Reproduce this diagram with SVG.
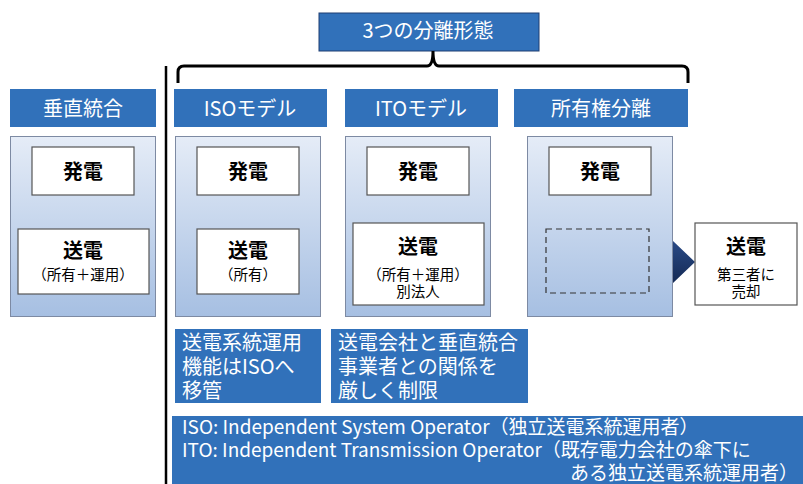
<svg xmlns="http://www.w3.org/2000/svg" width="803" height="484" viewBox="0 0 803 484">
<style>
text{font-family:"Noto Sans CJK JP","Noto Sans",sans-serif;}
.hdr{fill:#3171ba;}
.hdrt{fill:#fff;font-size:20px;text-anchor:middle;}
.panel{fill:url(#pg);stroke:#7d8aa3;stroke-width:1;}
.box{fill:#fff;stroke:#555;stroke-width:1.2;}
.bt{fill:#000;font-size:20px;font-weight:bold;text-anchor:middle;}
.st{fill:#000;font-size:14.5px;text-anchor:middle;}
.note{fill:#3171ba;}
.nt{fill:#fff;font-size:20px;}
.ft{fill:#fff;font-size:19px;}
</style>
<defs>
<linearGradient id="pg" x1="0" y1="0" x2="0" y2="1">
<stop offset="0" stop-color="#e5ecf7"/>
<stop offset="1" stop-color="#a6bfe2"/>
</linearGradient>
<linearGradient id="ag" x1="0" y1="0" x2="0" y2="1">
<stop offset="0" stop-color="#2a4a86"/>
<stop offset="1" stop-color="#142a55"/>
</linearGradient>
</defs>

<g id="title">
<rect x="319" y="13" width="220" height="38" class="hdr" stroke="#1f3f73" stroke-width="1"/>
<text x="428" y="38" class="hdrt">3つの分離形態</text>
</g>

<g id="connectors">
<path d="M178,83 V72 Q178,66 184,66 H427 Q433,66 433,51 Q433,66 439,66 H682 Q688,66 688,72 V83" fill="none" stroke="#000" stroke-width="3"/>
<line x1="166" y1="66" x2="166" y2="484" stroke="#000" stroke-width="2.5"/>
<path d="M652,251 H673 V241 L695,262 L673,283 V273 H652 Z" fill="url(#ag)"/>
</g>

<g id="vertical">
<rect x="10" y="89" width="146" height="38" class="hdr"/>
<text x="83" y="116" class="hdrt">垂直統合</text>
<rect x="10.5" y="136.5" width="145" height="180" class="panel"/>
<rect x="32" y="147" width="102" height="48" class="box"/>
<text x="83" y="179" class="bt">発電</text>
<rect x="18" y="229" width="131" height="65" class="box"/>
<text x="83" y="258" class="bt">送電</text>
<text x="83" y="280" class="st">（所有＋運用）</text>
</g>

<g id="iso">
<rect x="174" y="89" width="153" height="38" class="hdr"/>
<text x="250" y="116" class="hdrt">ISOモデル</text>
<rect x="175.5" y="136.5" width="145" height="180" class="panel"/>
<rect x="197" y="147" width="102" height="48" class="box"/>
<text x="248" y="179" class="bt">発電</text>
<rect x="197" y="229" width="102" height="65" class="box"/>
<text x="248" y="258" class="bt">送電</text>
<text x="248" y="280" class="st">（所有）</text>
</g>

<g id="ito">
<rect x="345" y="89" width="153" height="38" class="hdr"/>
<text x="421" y="116" class="hdrt">ITOモデル</text>
<rect x="345.5" y="136.5" width="145" height="180" class="panel"/>
<rect x="367" y="147" width="102" height="48" class="box"/>
<text x="418" y="179" class="bt">発電</text>
<rect x="353" y="223" width="131" height="82" class="box"/>
<text x="418" y="254" class="bt">送電</text>
<text x="418" y="280" class="st">（所有＋運用）</text>
<text x="418" y="297" class="st">別法人</text>
</g>

<g id="ownership">
<rect x="514" y="89" width="174" height="38" class="hdr"/>
<text x="601" y="116" class="hdrt">所有権分離</text>
<rect x="527.5" y="136.5" width="145" height="180" class="panel"/>
<rect x="549" y="147" width="102" height="48" class="box"/>
<text x="600" y="179" class="bt">発電</text>
<rect x="546" y="229" width="103" height="64" fill="none" stroke="#333" stroke-width="1.2" stroke-dasharray="6,4"/>
</g>

<g id="sold">
<rect x="695" y="223" width="102" height="82" class="box"/>
<text x="746" y="254" class="bt">送電</text>
<text x="746" y="280" class="st" font-size="15.5">第三者に</text>
<text x="746" y="297" class="st" font-size="15.5">売却</text>
</g>

<g id="iso-note">
<rect x="175" y="329" width="146" height="74" class="note"/>
<text class="nt"><tspan x="182" y="350">送電系統運用</tspan><tspan x="182" y="374">機能はISOへ</tspan><tspan x="182" y="398">移管</tspan></text>
</g>

<g id="ito-note">
<rect x="331" y="329" width="197" height="74" class="note"/>
<text class="nt"><tspan x="338" y="350">送電会社と垂直統合</tspan><tspan x="338" y="374">事業者との関係を</tspan><tspan x="338" y="398">厳しく制限</tspan></text>
</g>

<g id="legend">
<rect x="172" y="416" width="631" height="68" class="note"/>
<text class="ft"><tspan x="182" y="434">ISO: Independent System Operator（独立送電系統運用者）</tspan><tspan x="182" y="457">ITO: Independent Transmission Operator（既存電力会社の傘下に</tspan><tspan x="570" y="480">ある独立送電系統運用者）</tspan></text>
</g>
</svg>
